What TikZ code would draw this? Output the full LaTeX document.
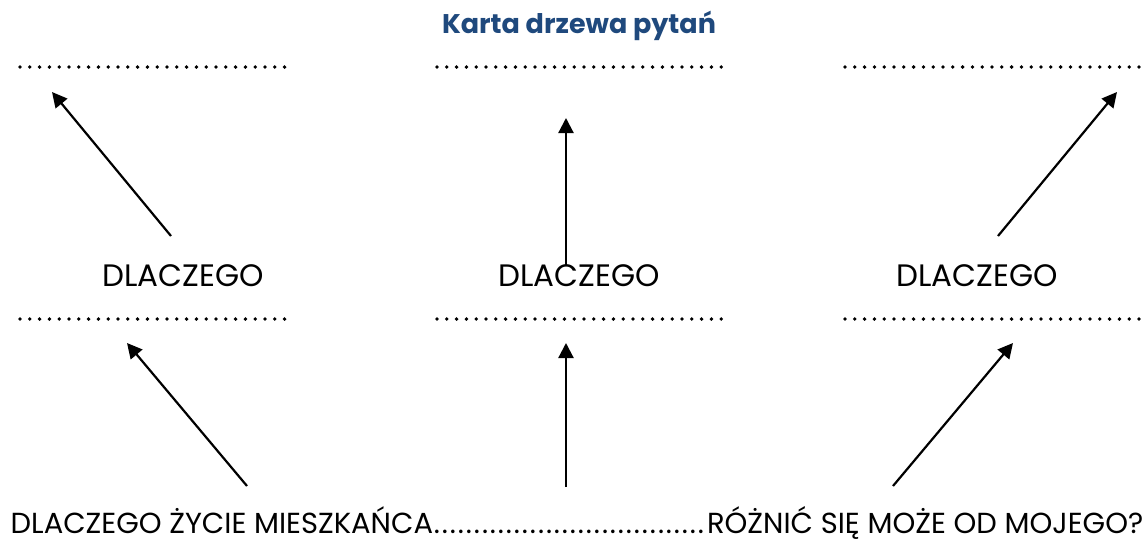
\documentclass[tikz,border=0pt]{standalone}
\usepackage{fontspec}
\setmainfont{Poppins}
\usepackage{tikz}
\usetikzlibrary{positioning, arrows.meta}
\definecolor{titleblue}{RGB}{31,73,125}
\newcommand{\gapdots}[1]{\makebox[#1]{\leaders\hbox to 4pt{\hss.\hss}\hfill}}

\begin{document}
\begin{tikzpicture}[x = 0.5pt, y = -0.5pt,
    every node/.style = { inner sep = 0pt, anchor = base },
    word/.style = { font = \fontsize{15.5}{17}\selectfont },
    blank/.style = { line width = 1.9pt, line cap = round, dash pattern = on 0pt off 4.9pt },
    up/.style = { line width = 1.1pt, -{Triangle[length = 7.5pt, width = 7.5pt]} }]
    \useasboundingbox (0,0) rectangle (1148,542);

    % title
    \node [font = \bfseries\fontsize{13.5}{15}\selectfont, text = titleblue] (title) at (579,33) { Karta drzewa pytań };

    % blanks to fill in
    \draw [blank] (20,67) -- (285,67);
    \draw [blank] (437,67) -- (726,67);
    \draw [blank] (845,67) -- (1140,67);
    \draw [blank] (20,319) -- (285,319);
    \draw [blank] (437,319) -- (726,319);
    \draw [blank] (845,319) -- (1140,319);

    % questions
    \node [word] (why1) at (183,286) { DLACZEGO };
    \node [word] (why2) at (579,286) { DLACZEGO };
    \node [word] (why3) at (977,286) { DLACZEGO };
    \node [font = \fontsize{14.5}{16}\selectfont] (main) at (577,533) { DLACZEGO ŻYCIE MIESZKAŃCA\gapdots{137pt}RÓŻNIĆ SIĘ MOŻE OD MOJEGO? };

    % arrow ends
    \coordinate (a1) at (171,236);   \coordinate (b1) at (52,92);
    \coordinate (a2) at (566,265);   \coordinate (b2) at (566,118);
    \coordinate (a3) at (998,236);   \coordinate (b3) at (1117,92);
    \coordinate (c1) at (247,486);   \coordinate (d1) at (127,343);
    \coordinate (c2) at (566,487);   \coordinate (d2) at (566,343);
    \coordinate (c3) at (893,486);   \coordinate (d3) at (1013,343);

    \draw [up] (a1) -- (b1);
    \draw [up] (a2) -- (b2);
    \draw [up] (a3) -- (b3);
    \draw [up] (c1) -- (d1);
    \draw [up] (c2) -- (d2);
    \draw [up] (c3) -- (d3);
\end{tikzpicture}
\end{document}
